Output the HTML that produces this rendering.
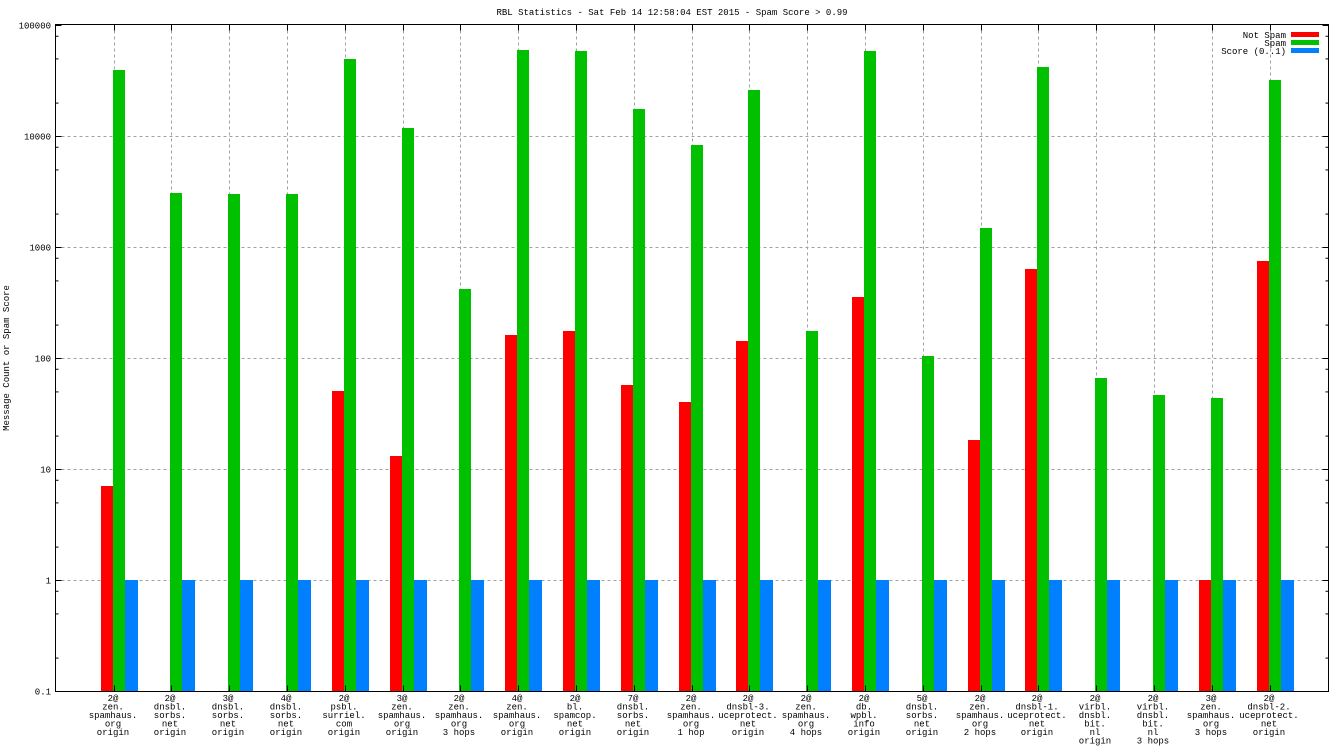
<!DOCTYPE html>
<html><head><meta charset="utf-8"><style>body{margin:0;background:#fff}svg{display:block}text{font-family:"Liberation Mono",monospace;font-size:9px;fill:#000}</style></head><body>
<svg width="1344" height="756" xmlns="http://www.w3.org/2000/svg" id="s"></svg>
<script>
const s=document.getElementById('s');let h='';
const L=55.5,R=1328.5,T=24.5,B=691.5;
h+=`<text x="672" y="15" text-anchor="middle">RBL Statistics - Sat Feb 14 12:58:04 EST 2015 - Spam Score &gt; 0.99</text>`;
h+=`<text transform="translate(9,358) rotate(-90)" text-anchor="middle">Message Count or Spam Score</text>`;
const labs=["0.1","1","10","100","1000","10000","100000"];
for(let i=0;i<7;i++){const yv=B-111*i;
 if(i>0&&i<6)h+=`<line x1="${L}" x2="${R}" y1="${yv}" y2="${yv}" stroke="#a0a0a0" stroke-dasharray="3,3"/>`;
 h+=`<text x="51" y="${yv+3}" text-anchor="end">${labs[i]}</text>`;
 h+=`<line x1="${L}" x2="${L+6}" y1="${yv}" y2="${yv}" stroke="#000"/><line x1="${R}" x2="${R-6}" y1="${yv}" y2="${yv}" stroke="#000"/>`;
 if(i<6)for(const m of [2,5,8]){const ym=yv-111*Math.log10(m);h+=`<line x1="${L}" x2="${L+3}" y1="${ym}" y2="${ym}" stroke="#000"/><line x1="${R}" x2="${R-3}" y1="${ym}" y2="${ym}" stroke="#000"/>`;}
}
const names=[["2@","zen.","spamhaus.","org","origin"],["2@","dnsbl.","sorbs.","net","origin"],["3@","dnsbl.","sorbs.","net","origin"],["4@","dnsbl.","sorbs.","net","origin"],["2@","psbl.","surriel.","com","origin"],["3@","zen.","spamhaus.","org","origin"],["2@","zen.","spamhaus.","org","3 hops"],["4@","zen.","spamhaus.","org","origin"],["2@","bl.","spamcop.","net","origin"],["7@","dnsbl.","sorbs.","net","origin"],["2@","zen.","spamhaus.","org","1 hop"],["2@","dnsbl-3.","uceprotect.","net","origin"],["2@","zen.","spamhaus.","org","4 hops"],["2@","db.","wpbl.","info","origin"],["5@","dnsbl.","sorbs.","net","origin"],["2@","zen.","spamhaus.","org","2 hops"],["2@","dnsbl-1.","uceprotect.","net","origin"],["2@","virbl.","dnsbl.","bit.","nl","origin"],["2@","virbl.","dnsbl.","bit.","nl","3 hops"],["3@","zen.","spamhaus.","org","3 hops"],["2@","dnsbl-2.","uceprotect.","net","origin"]];
const g=[70,193,194,194,59,128,289,50,51,109,145,90,331,51,356,228,67,378,395,398,80];
const r=[486,0,0,0,391,456,0,335,331,385,402,341,0,297,0,440,269,0,0,580,261];
for(let i=0;i<21;i++){const c=113.5+i*57.8;const cx=Math.round(c)-1;
 h+=`<line x1="${cx+1.5}" x2="${cx+1.5}" y1="${T}" y2="${B}" stroke="#a0a0a0" stroke-dasharray="3,3"/>`;
 if(r[i])h+=`<rect x="${cx-12}" y="${r[i]}" width="12" height="${691-r[i]}" fill="#ff0000"/>`;
 h+=`<rect x="${cx}" y="${g[i]}" width="12" height="${691-g[i]}" fill="#00c000"/>`;
 h+=`<rect x="${cx+12}" y="580" width="13" height="111" fill="#0080ff"/>`;
 h+=`<line x1="${cx+1.5}" x2="${cx+1.5}" y1="${T}" y2="${T+6}" stroke="#000"/><line x1="${cx+1.5}" x2="${cx+1.5}" y1="${B}" y2="${B-6}" stroke="#000"/>`;
 names[i].forEach((t,k)=>h+=`<text x="${cx}" y="${701+k*8.5}" text-anchor="middle">${t}</text>`);
}
h+=`<rect x="${L}" y="${T}" width="${R-L}" height="${B-T}" fill="none" stroke="#000"/>`;
[["Not Spam","#ff0000"],["Spam","#00c000"],["Score (0..1)","#0080ff"]].forEach((e,k)=>{h+=`<text x="1286" y="${38+k*8}" text-anchor="end">${e[0]}</text><rect x="1291" y="${32+k*8}" width="28" height="5" fill="${e[1]}"/>`;});
s.innerHTML=h;
</script>
</body></html>
